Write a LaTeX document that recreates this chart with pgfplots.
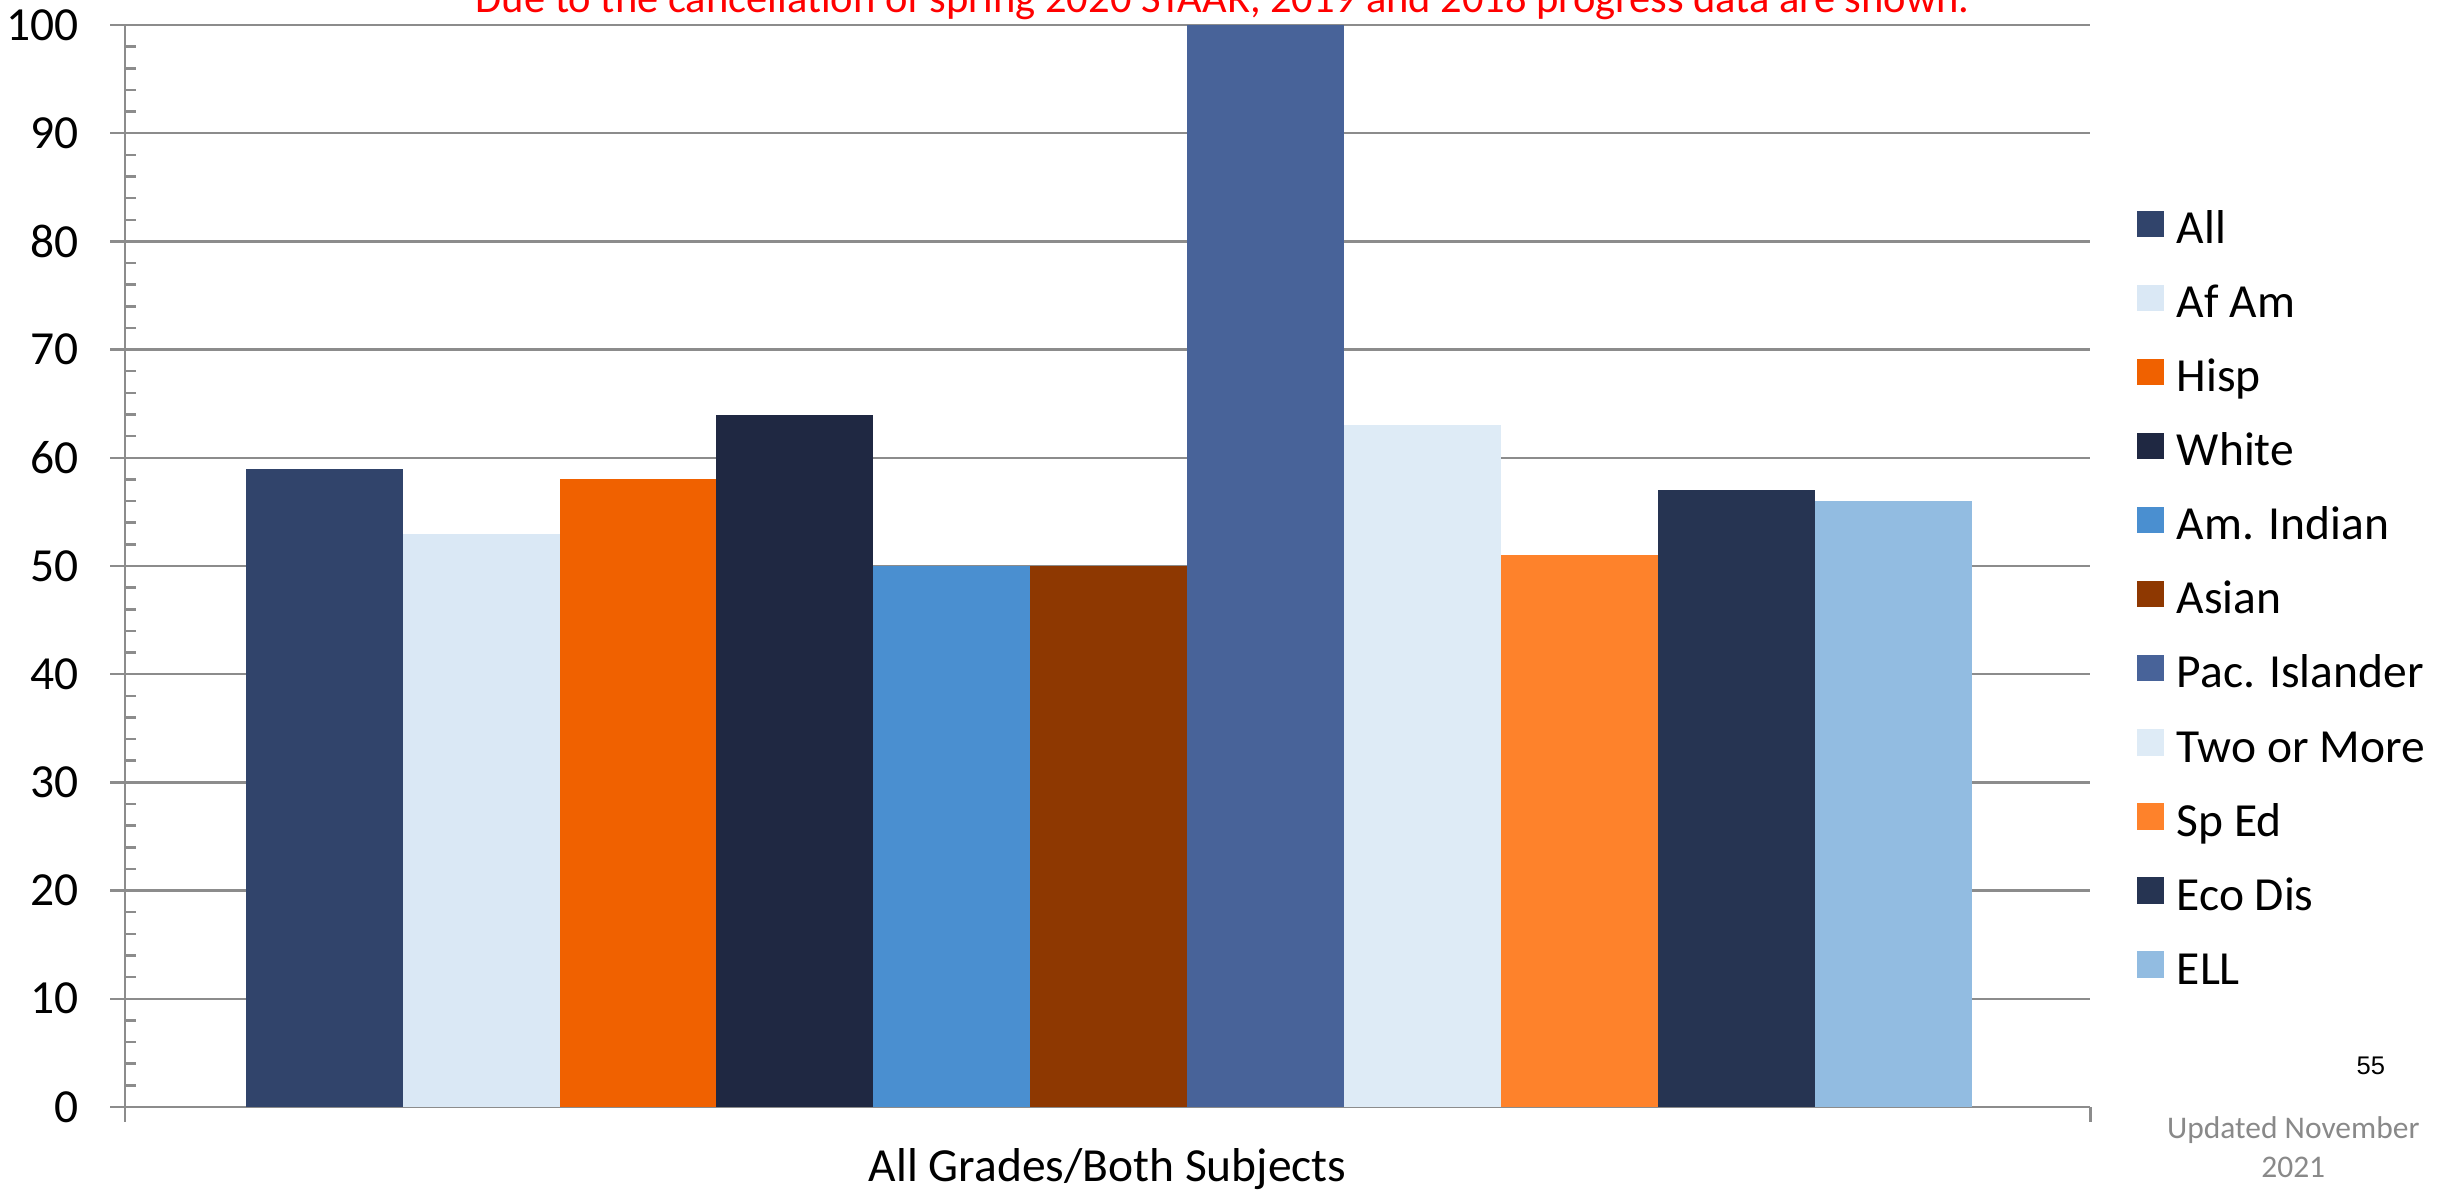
\documentclass[border=0pt]{standalone}
\usepackage{fontspec}
\setmainfont{Carlito}
\usepackage{pgfplots}
\pgfplotsset{compat=1.18}

\definecolor{cAll}{HTML}{31446B}
\definecolor{cAfAm}{HTML}{DAE8F5}
\definecolor{cHisp}{HTML}{F06100}
\definecolor{cWhite}{HTML}{1F2842}
\definecolor{cAmInd}{HTML}{4A8FD0}
\definecolor{cAsian}{HTML}{8E3801}
\definecolor{cPac}{HTML}{486399}
\definecolor{cTwo}{HTML}{DEEBF6}
\definecolor{cSpEd}{HTML}{FE822B}
\definecolor{cEco}{HTML}{263452}
\definecolor{cEll}{HTML}{92BCE1}
\definecolor{gridgray}{HTML}{8C8C8C}
\definecolor{notegray}{HTML}{898989}

\begin{document}
\begin{tikzpicture}
\useasboundingbox (-25.05pt,-16.91pt) rectangle (465.95pt,221.39pt);
\clip (-25.05pt,-16.91pt) rectangle (465.95pt,221.39pt);
\begin{axis}[
    scale only axis,
    width=393pt, height=216.38pt,
    xmin=0, xmax=1255,
    ymin=0, ymax=100,
    ybar, bar shift=0pt, bar width=100.2,
    xtick={0,1255}, xticklabels={},
    ytick={0,10,...,100},
    minor y tick num=4,
    ymajorgrids=true,
    grid style={gridgray, line width=0.5pt},
    axis x line*=bottom, axis y line*=left,
    axis line style={gridgray, line width=0.5pt, -},
    tick style={gridgray, line width=0.5pt},
    tick align=outside,
    major tick length=3pt,
    minor tick length=2.2pt,
    minor tick style={xshift=2.2pt},
    /pgf/number format/assume math mode=true,
    ticklabel style={font=\fontsize{9.5}{11}\selectfont},
    yticklabel style={anchor=east, inner sep=0pt, xshift=-6.1pt},
    xlabel={All Grades/Both Subjects},
    xlabel style={font=\fontsize{9.5}{11}\selectfont, at={(axis description cs:0.5,0)}, anchor=base, yshift=-15.0pt},
    legend image code/.code={\fill[#1] (0pt,-1.2pt) rectangle (5.3pt,4.1pt);},
    legend cell align=left,
    legend style={
        at={(1.0233,0.8312)}, anchor=north west,
        draw=none, fill=none, inner sep=0pt, row sep=5.81pt,
        font=\fontsize{9.5}{11}\selectfont,
        nodes={inner sep=0pt, text height=7pt, text depth=2pt},
        /tikz/every odd column/.append style={column sep=2.66pt},
    },
]
\addplot[draw=none, fill=cAll]   coordinates {(127.1,59)};
\addlegendentry{All}
\addplot[draw=none, fill=cAfAm]  coordinates {(227.3,53)};
\addlegendentry{Af Am}
\addplot[draw=none, fill=cHisp]  coordinates {(327.5,58)};
\addlegendentry{Hisp}
\addplot[draw=none, fill=cWhite] coordinates {(427.7,64)};
\addlegendentry{White}
\addplot[draw=none, fill=cAmInd] coordinates {(527.9,50)};
\addlegendentry{Am. Indian}
\addplot[draw=none, fill=cAsian] coordinates {(628.1,50)};
\addlegendentry{Asian}
\addplot[draw=none, fill=cPac]   coordinates {(728.3,100)};
\addlegendentry{Pac. Islander}
\addplot[draw=none, fill=cTwo]   coordinates {(828.5,63)};
\addlegendentry{Two or More}
\addplot[draw=none, fill=cSpEd]  coordinates {(928.7,51)};
\addlegendentry{Sp Ed}
\addplot[draw=none, fill=cEco]   coordinates {(1028.9,57)};
\addlegendentry{Eco Dis}
\addplot[draw=none, fill=cEll]   coordinates {(1129.1,56)};
\addlegendentry{ELL}
\end{axis}
\node[anchor=base, text=red, font=\fontsize{8.5}{10}\selectfont, inner sep=0pt] at (219.5pt,218.9pt)
    {Due to the cancellation of spring 2020 STAAR, 2019 and 2018 progress data are shown.};
\node[anchor=base, font=\fontspec{Liberation Sans}\fontsize{5.1}{6}\selectfont, inner sep=0pt] at (449.1pt,6.39pt) {55};
\node[anchor=base, text=notegray, font=\fontsize{6.3}{7.5}\selectfont, inner sep=0pt] at (433.6pt,-6.26pt) {Updated November};
\node[anchor=base, text=notegray, font=\fontsize{6.3}{7.5}\selectfont, inner sep=0pt] at (433.6pt,-14.09pt) {2021};
\end{tikzpicture}
\end{document}
